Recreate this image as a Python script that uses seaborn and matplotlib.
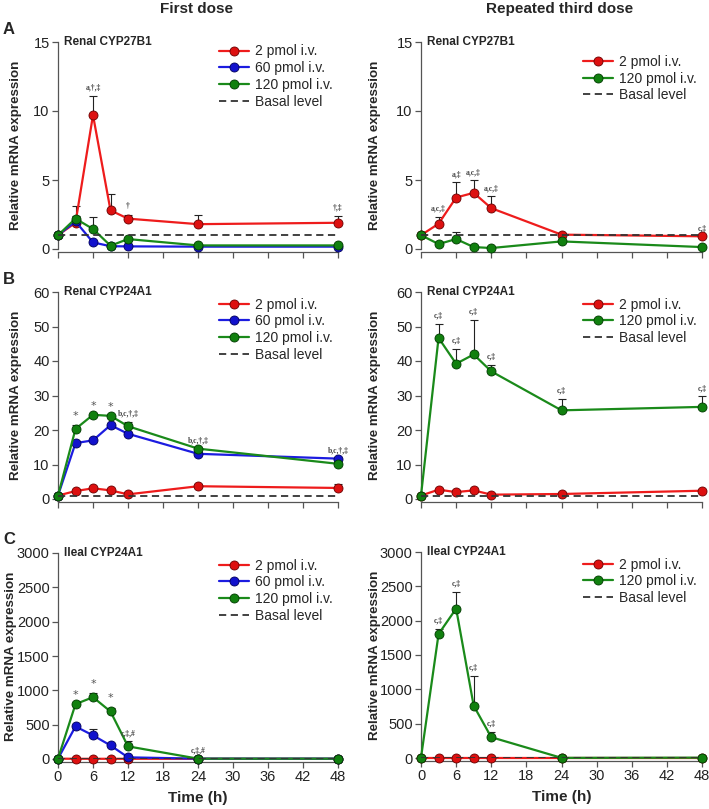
import matplotlib
matplotlib.use('Agg')
import matplotlib.pyplot as plt
import seaborn as sns
import numpy as np
import pandas as pd

sns.set_style('ticks')
plt.rcParams['font.family'] = ['Liberation Sans', 'DejaVu Sans']

# time points (h)
time_h = [0, 3, 6, 9, 12, 24, 48]

# --- A: Renal CYP27B1 ---
a1_red = [1.0, 1.9, 9.7, 2.8, 2.2, 1.8, 1.9]
a1_red_err = [0, 0.5, 1.4, 1.2, 0.3, 0.7, 0.5]
a1_blue = [1.0, 2.0, 0.48, 0.2, 0.19, 0.17, 0.17]
a1_blue_err = [0, 0, 0, 0, 0, 0, 0]
a1_green = [1.0, 2.2, 1.45, 0.24, 0.72, 0.26, 0.26]
a1_green_err = [0, 0.9, 0.85, 0, 0, 0, 0]
a1_notes = [(6, 'a,†,‡'), (12, '†'), (48, '†,‡')]

a2_red = [1.0, 1.83, 3.73, 4.07, 2.96, 1.04, 0.92]
a2_red_err = [0, 0.5, 1.1, 0.9, 0.85, 0, 0]
a2_green = [1.0, 0.36, 0.72, 0.14, 0.07, 0.55, 0.14]
a2_green_err = [0, 0, 0.5, 0, 0, 0, 0]
a2_notes = [(3, 'a,c,‡'), (6, 'a,‡'), (9, 'a,c,‡'), (12, 'a,c,‡'), (48, 'c,‡')]

# --- B: Renal CYP24A1 ---
b1_red = [1.0, 2.3, 3.1, 2.5, 1.35, 3.7, 3.2]
b1_red_err = [0, 0, 0, 0, 0, 0.7, 1.1]
b1_blue = [1.0, 16.2, 17.0, 21.4, 18.9, 13.1, 11.7]
b1_blue_err = [0, 0, 0, 0, 0, 0, 0]
b1_green = [1.0, 20.3, 24.4, 24.1, 21.1, 14.6, 10.2]
b1_green_err = [0, 1.2, 0, 0, 1.2, 0, 0]
b1_notes = [(3, '*'), (6, '*'), (9, '*'), (12, 'b,c,†,‡'), (24, 'b,c,†,‡'), (48, 'b,c,†,‡')]

b2_red = [1.0, 2.7, 2.0, 2.5, 1.26, 1.45, 2.4]
b2_red_err = [0, 0, 0, 0, 0, 0, 0]
b2_green = [1.0, 46.7, 39.2, 41.9, 37.0, 25.7, 26.7]
b2_green_err = [0, 4.1, 4.3, 10.1, 1.9, 3.3, 3.1]
b2_notes = [(3, 'c,‡'), (6, 'c,‡'), (9, 'c,‡'), (12, 'c,‡'), (24, 'c,‡'), (48, 'c,‡')]

# --- C: Ileal CYP24A1 ---
c1_red = [5, 3, 3, 3, 3, 3, 3]
c1_red_err = [0, 0, 0, 0, 0, 0, 0]
c1_blue = [5, 474, 344, 198, 24, 5, 5]
c1_blue_err = [0, 0, 96, 0, 0, 0, 0]
c1_green = [5, 799, 900, 692, 184, 5, 5]
c1_green_err = [0, 0, 58, 58, 72, 0, 0]
c1_notes = [(3, '*'), (6, '*'), (9, '*'), (12, 'c,‡,#'), (24, 'c,‡,#')]

c2_red = [5, 5, 5, 5, 5, 5, 5]
c2_red_err = [0, 0, 0, 0, 0, 0, 0]
c2_green = [5, 1805, 2176, 761, 303, 2, 5]
c2_green_err = [0, 73, 241, 433, 82, 0, 0]
c2_notes = [(3, 'c,‡'), (6, 'c,‡'), (9, 'c,‡'), (12, 'c,‡')]

series_style = {
    '2 pmol i.v.': dict(line='#ee1c1c', face='#dd1010', edge='#6a0000'),
    '60 pmol i.v.': dict(line='#1c1ce0', face='#1212cc', edge='#00005a'),
    '120 pmol i.v.': dict(line='#1a8a1a', face='#11800f', edge='#003a00'),
}

W, H = 709, 809
fig = plt.figure(figsize=(W / 100, H / 100), dpi=100)


def add_ax(x0, x1, ytop, ybot):
    return fig.add_axes([x0 / W, 1 - ybot / H, (x1 - x0) / W, (ybot - ytop) / H])


def draw_panel(ax, title, series, notes, ymax, ystep, show_x, leg_top, ylab_x):
    for name, vals, errs in series:
        st = series_style[name]
        df = pd.DataFrame({'t': time_h, 'v': vals})
        ax.errorbar(time_h, vals, yerr=[np.zeros(len(errs)), errs], fmt='none',
                    ecolor='#222222', elinewidth=0.8, capsize=3, capthick=0.8,
                    zorder=1, clip_on=False)
        sns.lineplot(data=df, x='t', y='v', ax=ax, color=st['line'], lw=1.6,
                     marker='o', markersize=6.5, markerfacecolor=st['face'],
                     markeredgecolor=st['edge'], markeredgewidth=0.6,
                     label=name, clip_on=False, zorder=3)
    ax.plot([0, 48], [1, 1], ls='--', color='#333333', lw=1.3, label='Basal level',
            dashes=(4, 2.5), zorder=4)

    # significance notes above the highest point at that time
    for t, txt in notes:
        i = time_h.index(t)
        top = max(v[i] + e[i] for _, v, e in series)
        if txt == '*':
            ax.annotate(txt, (t, top), xytext=(0, 3), textcoords='offset points',
                        ha='center', va='bottom', fontsize=8, color='#555555',
                        family='DejaVu Sans')
        else:
            ax.annotate(txt, (t, top), xytext=(0, 3), textcoords='offset points',
                        ha='center', va='bottom', fontsize=5.5, color='#444444',
                        family='Liberation Serif', fontweight='bold')

    ax.set_xlim(0, 48)
    ax.set_ylim(0, ymax)
    ax.set_xticks(range(0, 49, 6))
    ax.set_yticks(np.arange(0, ymax + 1, ystep))
    sns.despine(ax=ax)
    ax.spines['bottom'].set_position(('outward', 2))
    for s in ['left', 'bottom']:
        ax.spines[s].set_color('#555555')
        ax.spines[s].set_linewidth(0.9)
    ax.tick_params(axis='both', labelsize=10.5, colors='#555555', labelcolor='#222222',
                   length=4, width=0.9, pad=2)
    if not show_x:
        ax.set_xticklabels([])
        ax.set_xlabel('')
    else:
        ax.set_xlabel('Time (h)', fontsize=11, fontweight='bold', labelpad=5)
    ax.set_ylabel('Relative mRNA expression', fontsize=9.6, fontweight='bold')
    ax.yaxis.set_label_coords(ylab_x, 0.5)
    ax.text(0.022, 1.0, title, transform=ax.transAxes, fontsize=8.5,
            fontweight='bold', va='center', ha='left')
    ax.legend(loc='upper right', bbox_to_anchor=(1.0, leg_top), frameon=False,
              fontsize=10, handlelength=2.2, handletextpad=0.4, labelspacing=0.2,
              borderaxespad=0)


ax = add_ax(58, 338, 42, 249)
draw_panel(ax, 'Renal CYP27B1',
           [('2 pmol i.v.', a1_red, a1_red_err), ('60 pmol i.v.', a1_blue, a1_blue_err),
            ('120 pmol i.v.', a1_green, a1_green_err)],
           a1_notes, 15, 5, False, 1.015, -0.127)
ax = add_ax(421, 702, 42, 249)
draw_panel(ax, 'Renal CYP27B1',
           [('2 pmol i.v.', a2_red, a2_red_err), ('120 pmol i.v.', a2_green, a2_green_err)],
           a2_notes, 15, 5, False, 0.965, -0.143)
ax = add_ax(58, 338, 292, 499)
draw_panel(ax, 'Renal CYP24A1',
           [('2 pmol i.v.', b1_red, b1_red_err), ('60 pmol i.v.', b1_blue, b1_blue_err),
            ('120 pmol i.v.', b1_green, b1_green_err)],
           b1_notes, 60, 10, False, 1.0, -0.127)
ax = add_ax(421, 702, 292, 499)
draw_panel(ax, 'Renal CYP24A1',
           [('2 pmol i.v.', b2_red, b2_red_err), ('120 pmol i.v.', b2_green, b2_green_err)],
           b2_notes, 60, 10, False, 1.0, -0.143)
ax = add_ax(58, 338, 553, 759)
draw_panel(ax, 'Ileal CYP24A1',
           [('2 pmol i.v.', c1_red, c1_red_err), ('60 pmol i.v.', c1_blue, c1_blue_err),
            ('120 pmol i.v.', c1_green, c1_green_err)],
           c1_notes, 3000, 500, True, 1.0, -0.145)
ax = add_ax(421, 702, 552, 758)
draw_panel(ax, 'Ileal CYP24A1',
           [('2 pmol i.v.', c2_red, c2_red_err), ('120 pmol i.v.', c2_green, c2_green_err)],
           c2_notes, 3000, 500, True, 1.0, -0.143)

# column headings and panel letters
fig.text(197 / W, 1 - 9 / H, 'First dose', ha='center', va='center',
         fontsize=11, fontweight='bold')
fig.text(560 / W, 1 - 9 / H, 'Repeated third dose', ha='center', va='center',
         fontsize=11, fontweight='bold')
for letter, y in [('A', 30), ('B', 280), ('C', 539)]:
    fig.text(3 / W, 1 - y / H, letter, ha='left', va='center', fontsize=12,
             fontweight='bold')

fig.savefig('out.png', dpi=100)
